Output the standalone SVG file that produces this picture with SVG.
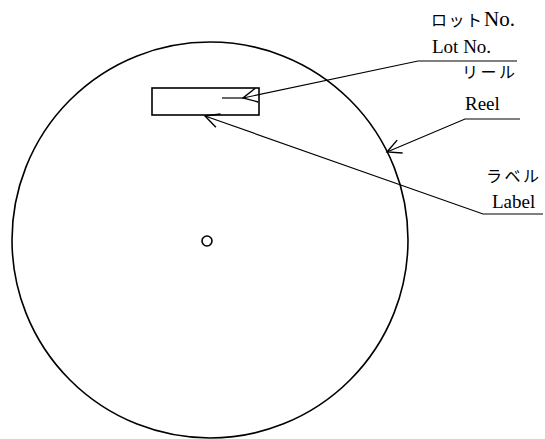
<svg xmlns="http://www.w3.org/2000/svg" width="545" height="439" viewBox="0 0 545 439">
  <style>
    .shape { fill: none; stroke: #000; stroke-width: 1.6; }
    .lead { fill: none; stroke: #000; stroke-width: 1.2; }
    .en { font-family: "Liberation Serif", "DejaVu Serif", serif; font-size: 19px; fill: #000; }
    .ja { font-family: "Noto Sans CJK JP", "Liberation Serif", sans-serif; font-size: 16px; fill: #000; }
  </style>
  <defs>
    <marker id="arrow" markerUnits="userSpaceOnUse" markerWidth="30" markerHeight="30" refX="0" refY="0" orient="auto" viewBox="-20 -15 30 30" overflow="visible">
      <path d="M -14 -7 L 0 0 L -14 7" fill="none" stroke="#000" stroke-width="1.4"/>
    </marker>
  </defs>
  <rect width="545" height="439" fill="#fff"/>

  <g id="reel">
    <circle class="shape" cx="210" cy="240" r="198"/>
    <circle class="shape" cx="207" cy="241" r="5"/>
  </g>

  <g id="label">
    <rect class="shape" x="152" y="88" width="107" height="27"/>
    <line class="lead" x1="222" y1="98" x2="243" y2="98"/>
  </g>

  <g id="connectors">
    <polyline class="lead" points="517,61 418,61 243,98" marker-end="url(#arrow)"/>
    <polyline class="lead" points="520,119 465,119 387,152" marker-end="url(#arrow)"/>
    <polyline class="lead" points="543,214 483,214 205,116" marker-end="url(#arrow)"/>
  </g>

  <g id="text-lot">
    <text class="ja" x="431" y="26" letter-spacing="1.5">ロット</text>
    <text class="en" x="484" y="26" style="font-size:21px">No.</text>
    <text class="en" x="432" y="53">Lot No.</text>
  </g>
  <g id="text-reel">
    <text class="ja" x="462" y="78" letter-spacing="2.5">リール</text>
    <text class="en" x="465" y="110">Reel</text>
  </g>
  <g id="text-label">
    <text class="ja" x="486" y="182" letter-spacing="2.5">ラベル</text>
    <text class="en" x="492" y="208">Label</text>
  </g>
</svg>
